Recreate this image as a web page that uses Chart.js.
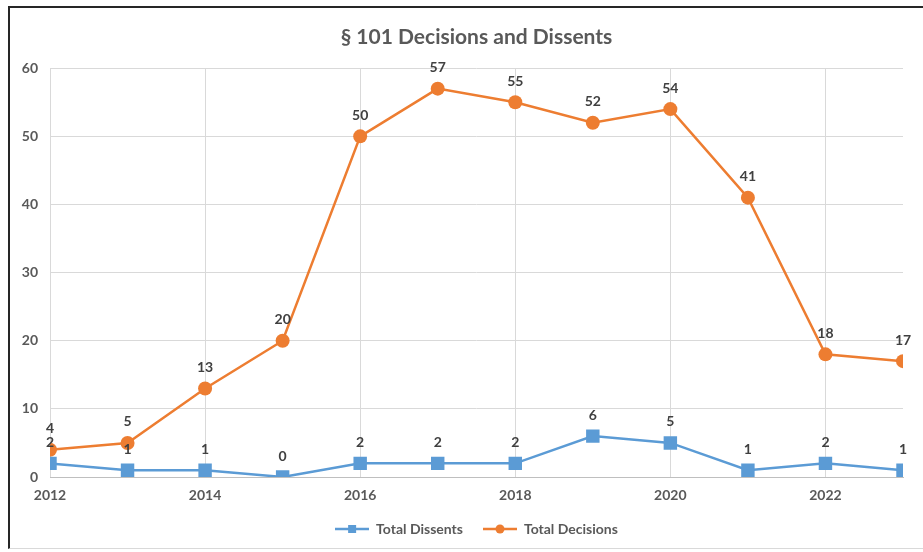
<!DOCTYPE html>
<html>
<head>
<meta charset="utf-8">
<script src="https://cdn.jsdelivr.net/npm/chart.js@4/dist/chart.umd.min.js"></script>
<style>
  html, body { margin: 0; padding: 0; background: #ffffff; }
  #wrap { position: relative; width: 923px; height: 552px; overflow: hidden; }
  #frame {
    position: absolute; left: 8px; top: 6px; width: 940px; height: 543px;
    border-left: 2px solid #262626; border-top: 2px solid #262626;
    border-bottom: 1px solid #d9d9d9; box-sizing: border-box;
  }
  #c { position: absolute; left: 0; top: 0; }
</style>
</head>
<body>
<div id="wrap">
  <div id="frame"></div>
  <canvas id="c" width="923" height="552"></canvas>
</div>
<script>
// Yearly counts of § 101 decisions and dissents
const years = [2012, 2013, 2014, 2015, 2016, 2017, 2018, 2019, 2020, 2021, 2022, 2023];
const totalDissents = [2, 1, 1, 0, 2, 2, 2, 6, 5, 1, 2, 1];
const totalDecisions = [4, 5, 13, 20, 50, 57, 55, 52, 54, 41, 18, 17];
const yTicks = [0, 10, 20, 30, 40, 50, 60];
const xTickYears = [2012, 2014, 2016, 2018, 2020, 2022];

const BLUE = '#5b9bd5';
const ORANGE = '#ed7d31';
const TEXT = '#595959';
const LABEL = '#404040';
const FONT = 'Lato, "Open Sans", sans-serif';

// Legend swatch: a short line with the series marker in the middle
function legendSwatch(color, shape) {
  const cv = document.createElement('canvas');
  cv.width = 34; cv.height = 14;
  const g = cv.getContext('2d');
  g.strokeStyle = color; g.lineWidth = 2.5;
  g.beginPath(); g.moveTo(0, 7); g.lineTo(34, 7); g.stroke();
  g.fillStyle = color;
  if (shape === 'rect') { g.fillRect(13, 3, 8, 8); }
  else { g.beginPath(); g.arc(17, 7, 4.5, 0, Math.PI * 2); g.fill(); }
  return cv;
}

// Value labels placed above each point
const valueLabels = {
  id: 'valueLabels',
  afterDatasetsDraw(chart) {
    const ctx = chart.ctx;
    ctx.save();
    ctx.font = 'bold 14px ' + FONT;
    ctx.fillStyle = LABEL;
    ctx.textAlign = 'center';
    ctx.textBaseline = 'middle';
    chart.data.datasets.forEach((ds, i) => {
      const meta = chart.getDatasetMeta(i);
      meta.data.forEach((pt, j) => {
        ctx.fillText(String(ds.data[j].y), pt.x, pt.y - 21);
      });
    });
    ctx.restore();
  }
};

// Center the title and legend over the plot area rather than the whole canvas
const centerOnPlot = {
  id: 'centerOnPlot',
  afterLayout(chart) {
    const c = (chart.chartArea.left + chart.chartArea.right) / 2;
    [chart.titleBlock, chart.legend].forEach(b => {
      if (!b) return;
      const w = b.right - b.left;
      b.left = c - w / 2;
      b.right = c + w / 2;
    });
  }
};

const toPoints = vals => years.map((yr, i) => ({ x: yr, y: vals[i] }));

new Chart(document.getElementById('c'), {
  type: 'line',
  data: {
    datasets: [
      {
        label: 'Total Dissents',
        data: toPoints(totalDissents),
        borderColor: BLUE, backgroundColor: BLUE,
        borderWidth: 2.5,
        pointStyle: 'rect', pointRadius: 9.5, pointHoverRadius: 9.5,
        pointBorderWidth: 0,
        tension: 0
      },
      {
        label: 'Total Decisions',
        data: toPoints(totalDecisions),
        borderColor: ORANGE, backgroundColor: ORANGE,
        borderWidth: 2.5,
        pointStyle: 'circle', pointRadius: 7, pointHoverRadius: 7,
        pointBorderWidth: 0,
        tension: 0
      }
    ]
  },
  options: {
    responsive: false,
    animation: false,
    events: [],
    layout: { padding: { left: 10, right: 20, top: 7, bottom: 6 } },
    plugins: {
      title: {
        display: true,
        text: '§ 101 Decisions and Dissents',
        color: TEXT,
        font: { family: FONT, size: 21, weight: 'bold' },
        padding: { top: 18, bottom: 18 }
      },
      legend: {
        position: 'bottom',
        labels: {
          color: TEXT,
          font: { family: FONT, size: 14, weight: 'bold' },
          usePointStyle: true,
          pointStyleWidth: 34,
          padding: 20,
          generateLabels(chart) {
            return chart.data.datasets.map((ds, i) => ({
              text: ds.label,
              pointStyle: legendSwatch(ds.borderColor, ds.pointStyle),
              fillStyle: ds.borderColor,
              strokeStyle: ds.borderColor,
              lineWidth: 0,
              hidden: false,
              datasetIndex: i,
              fontColor: TEXT
            }));
          }
        }
      },
      tooltip: { enabled: false }
    },
    scales: {
      x: {
        type: 'linear',
        min: years[0], max: years[years.length - 1],
        afterBuildTicks(s) { s.ticks = xTickYears.map(v => ({ value: v })); },
        afterFit(s) { s.height = 25; },
        ticks: {
          color: TEXT,
          font: { family: FONT, size: 14, weight: 'bold' },
          padding: 10,
          maxRotation: 0,
          callback: v => String(v)
        },
        grid: { color: '#d9d9d9', lineWidth: 1, drawTicks: false },
        border: { color: '#bfbfbf', width: 1 }
      },
      y: {
        min: 0, max: 60,
        afterBuildTicks(s) { s.ticks = yTicks.map(v => ({ value: v })); },
        afterFit(s) { s.width = 40; },
        ticks: {
          color: TEXT,
          font: { family: FONT, size: 14, weight: 'bold' },
          padding: 12
        },
        grid: { color: '#d9d9d9', lineWidth: 1, drawTicks: false },
        border: { display: false }
      }
    }
  },
  plugins: [valueLabels, centerOnPlot]
});
</script>
</body>
</html>
